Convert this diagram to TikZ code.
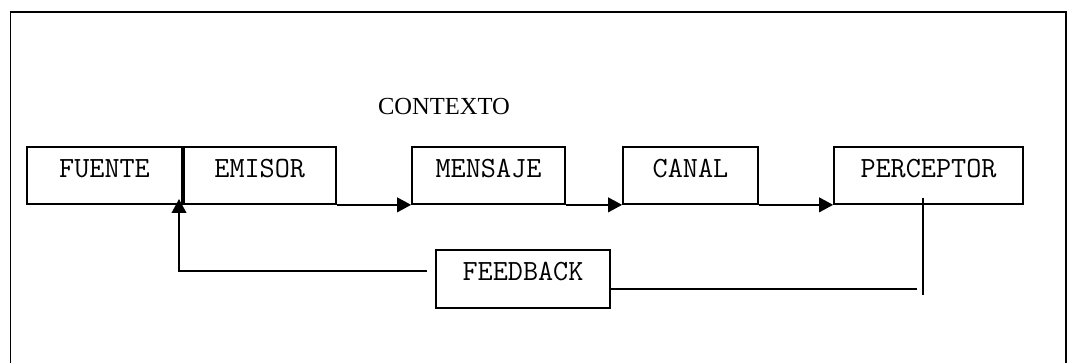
\documentclass[tikz,border=0pt]{standalone}
\usepackage{fontspec}
\setmainfont{Liberation Serif}
\usetikzlibrary{
    arrows.meta,
    calc,
    positioning}
\tikzset{blk/.style={
            draw, line width=1.3pt, inner sep=0pt,
            minimum height=42.75pt,
            text height=0.6em, text depth=0.35em,
            font=\ttfamily\fontsize{22}{26}\selectfont
        }}
\tikzset{ln/.style={line width=1.3pt}}
\tikzset{arr/.style={ln, -{Triangle[length=10.5pt, width=11pt]}}}

\begin{document}
\begin{tikzpicture}[x=0.75pt, y=-0.75pt]

    \useasboundingbox (0,0) rectangle (1069,363);

    % outer frame, open at the bottom
    \draw[line width=1.4pt] (10.5,363) -- (10.5,12) -- (1066,12) -- (1066,363);

    \node(ctx)[anchor=base, font=\fontsize{18.4}{22}\selectfont] at (444,115){CONTEXTO};

    % top row
    \node(fuente)[blk, minimum width=116.25pt] at (104.5,175.5){FUENTE};
    \node(emisor)[blk, minimum width=114pt, anchor=west] at (fuente.east){EMISOR};
    \node(mensaje)[blk, minimum width=114.75pt] at (488.5,175.5){MENSAJE};
    \node(canal)[blk, minimum width=101.25pt] at (690.5,175.5){CANAL};
    \node(perceptor)[blk, minimum width=141.75pt] at (928.5,175.5){PERCEPTOR};

    % feedback
    \node(feedback)[blk, minimum width=130.5pt, minimum height=43.5pt] at (523,279){FEEDBACK};

    \draw[arr] (emisor.south east) -- (mensaje.south west);
    \draw[arr] (mensaje.south east) -- (canal.south west);
    \draw[arr] (canal.south east) -- (perceptor.south west);

    % loop back to the source
    \coordinate(fbtip) at (179,199);
    \coordinate(fbstart) at ([xshift=-6pt, yshift=6pt]feedback.west);
    \draw[arr] (fbstart) -| (fbtip);

    % line from the perceptor
    \coordinate(pctop) at (923,198);
    \coordinate(pcbot) at (923,295);
    \coordinate(fbend) at (917,289);
    \draw[ln] (pctop) -- (pcbot);
    \draw[ln] (feedback.east |- fbend) -- (fbend);

\end{tikzpicture}
\end{document}
